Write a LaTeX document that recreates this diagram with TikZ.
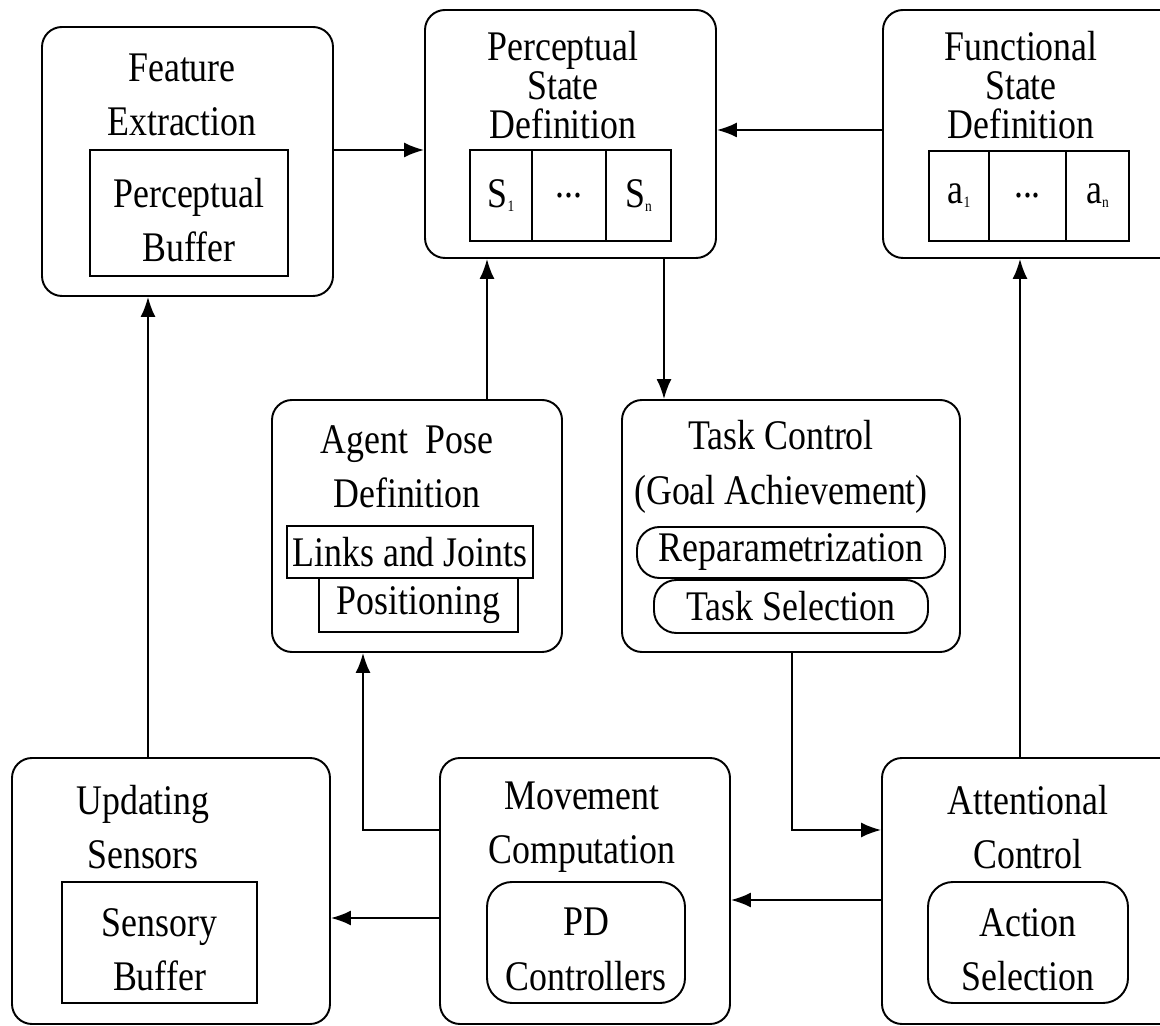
\documentclass[tikz,border=0pt]{standalone}
\usepackage{fontspec}
\setmainfont{Liberation Serif}[FakeStretch=0.85]
\usetikzlibrary{arrows.meta,fit}

\newcommand{\bigtext}{\fontsize{24}{31}\selectfont}
\newcommand{\tighttext}{\fontsize{24}{22}\selectfont}
\newcommand{\sub}[1]{\raisebox{-0.2ex}{\fontsize{9}{9}\selectfont #1}}

\tikzset{
  box/.style={draw, line width=1.1pt, rounded corners=0.4cm, inner sep=0pt},
  sqbox/.style={draw, line width=1.1pt, inner sep=0pt},
  rbox/.style={sqbox, rounded corners=0.5cm},
  pill/.style={sqbox, rounded corners=0.45cm},
  txt/.style={align=center, inner sep=0pt, font=\bigtext},
  intxt/.style={txt, yshift=-0.14cm},
  tighttxt/.style={align=center, inner sep=0pt, font=\tighttext},
  arr/.style={line width=1.1pt, -{Latex[length=0.4cm,width=0.3cm]}}
}

\begin{document}
\begin{tikzpicture}[x=0.02cm, y=-0.02cm]
  \useasboundingbox (0,0) rectangle (1160,1026);
  \clip (0,0) rectangle (1160,1026);

  % top row
  \node[box, fit={(42,27) (333,296)}] (fe) {};
  \node[txt] (fetxt) at (182,95) {Feature\\Extraction};
  \node[sqbox, fit={(90,150) (288,276)}] (pbuf) {};
  \node[intxt] at (pbuf) {Perceptual\\Buffer};

  \node[box, fit={(425,10) (716,258)}] (psd) {};
  \node[tighttxt] (psdtxt) at (563,85) {Perceptual\\State\\Definition};
  \node[sqbox, fit={(470,150) (532,241)}] (s1) {};
  \node[sqbox, fit={(532,150) (606,241)}] (sdots) {};
  \node[sqbox, fit={(606,150) (671,241)}] (sn) {};
  \node[txt] at (s1) {S\sub{1}};
  \node[txt] at (sdots) {...};
  \node[txt] at (sn) {S\sub{n}};

  \node[box, fit={(883,10) (1190,258)}] (fsd) {};
  \node[tighttxt] (fsdtxt) at (1021,85) {Functional\\State\\Definition};
  \node[sqbox, fit={(929,151) (989,241)}] (a1) {};
  \node[sqbox, fit={(989,151) (1066,241)}] (adots) {};
  \node[sqbox, fit={(1066,151) (1129,241)}] (an) {};
  \node[txt] at (a1) {a\sub{1}};
  \node[txt] at (adots) {...};
  \node[txt] at (an) {a\sub{n}};

  % middle row
  \node[box, fit={(272,400) (562,652)}] (pose) {};
  \node[txt] (posetxt) at (407,467) {Agent~~Pose\\Definition};
  \node[sqbox, fit={(287,526) (533,578)}] (links) {};
  \node[sqbox, fit={(319,578) (518,632)}] (posit) {};
  \node[txt] at (links) {Links and Joints};
  \node[txt] at (posit) {Positioning};

  \node[box, fit={(622,400) (960,652)}] (task) {};
  \node[txt] (tasktxt) at (781,467) {Task Control\\(Goal Achievement)};
  \node[pill, fit={(637,527) (945,578)}] (repar) {};
  \node[pill, fit={(654,580) (928,633)}] (tsel) {};
  \node[txt] at (repar) {Reparametrization};
  \node[txt] at (tsel) {Task Selection};

  % bottom row
  \node[box, fit={(12,758) (330,1024)}] (upd) {};
  \node[txt] (updtxt) at (143,827) {Updating\\Sensors};
  \node[sqbox, fit={(62,882) (257,1003)}] (sbuf) {};
  \node[intxt] at (sbuf) {Sensory\\Buffer};

  \node[box, fit={(440,758) (730,1024)}] (mov) {};
  \node[txt] (movtxt) at (582,827) {Movement\\Computation};
  \node[rbox, fit={(487,882) (685,1003)}] (pd) {};
  \node[intxt] at (pd) {PD\\Controllers};

  \node[box, fit={(882,758) (1190,1024)}] (att) {};
  \node[txt] (atttxt) at (1028,827) {Attentional\\Control};
  \node[rbox, fit={(928,882) (1128,1003)}] (asel) {};
  \node[intxt] at (asel) {Action\\Selection};

  % connectors
  \draw[arr] (fe.east |- 0,150) -- (psd.west |- 0,150);
  \draw[arr] (fsd.west |- 0,130) -- (psd.east |- 0,130);
  \draw[arr] (pose.north -| 487,0) -- (psd.south -| 487,0);
  \draw[arr] (psd.south -| 664,0) -- (task.north -| 664,0);
  \draw[arr] (task.south -| 792,0) |- (att.west |- 0,830);
  \draw[arr] (att.north -| 1020,0) -- (fsd.south -| 1020,0);
  \draw[arr] (att.west |- 0,900) -- (mov.east |- 0,900);
  \draw[arr] (mov.west |- 0,918) -- (upd.east |- 0,918);
  \draw[arr] (mov.west |- 0,830) -| (pose.south -| 363,0);
  \draw[arr] (upd.north -| 148,0) -- (fe.south -| 148,0);
\end{tikzpicture}
\end{document}
